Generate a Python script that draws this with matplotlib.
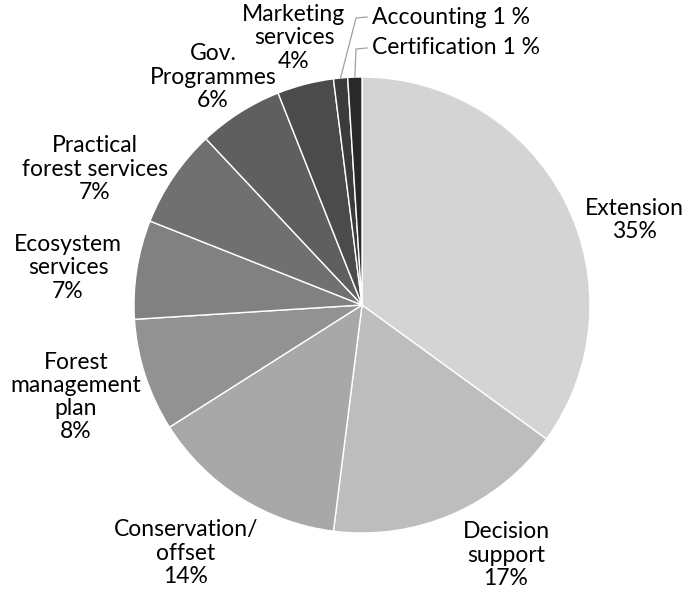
import numpy as np
import matplotlib
matplotlib.use("Agg")
import matplotlib.pyplot as plt

# service categories and their shares (%)
labels = ["Extension\n35%", "Decision\nsupport\n17%", "Conservation/\noffset\n14%",
          "Forest\nmanagement\nplan\n8%", "Ecosystem\nservices\n7%",
          "Practical\nforest services\n7%", "Gov.\nProgrammes\n6%",
          "Marketing\nservices\n4%", "Accounting 1 %", "Certification 1 %"]
shares = [35, 17, 14, 8, 7, 7, 6, 4, 1, 1]
greys = ["#d4d4d4", "#bdbdbd", "#a8a8a8", "#929292", "#818181",
         "#707070", "#5f5f5f", "#4b4b4b", "#3b3b3b", "#292929"]

# label anchor positions in pixel space (x, y from top)
label_pos = [(634, 220), (506, 555), (186, 553), (76, 397), (68, 268),
             (95, 169), (213, 77), (294, 38), (372, 17), (372, 48)]

plt.rcParams['font.family'] = ['Lato', 'DejaVu Sans']

W, H = 685, 597
fig = plt.figure(figsize=(W / 100, H / 100), dpi=100)
ax = fig.add_axes([0, 0, 1, 1])

cx, cy, r = 362, H - 305, 228
wedges, _ = ax.pie(shares, colors=greys, startangle=90, counterclock=False,
                   center=(cx, cy), radius=r, frame=True,
                   wedgeprops=dict(edgecolor='white', linewidth=1.0))
ax.set_xlim(0, W)
ax.set_ylim(0, H)
ax.set_aspect('equal')
ax.axis('off')

fs = 16.5
for i, (lab, (px, py)) in enumerate(zip(labels, label_pos)):
    if i >= 8:
        # small slices get a leader line
        w = wedges[i]
        ang = np.deg2rad((w.theta1 + w.theta2) / 2)
        x0, y0 = cx + r * np.cos(ang), cy + r * np.sin(ang)
        ty = H - py
        ax.plot([x0, px - 16, px - 5], [y0, ty - 1, ty], color='#a0a0a0', lw=0.9)
        ax.text(px, ty, lab, ha='left', va='center', fontsize=fs, color='black')
    else:
        ax.text(px, H - py, lab, ha='center', va='center', fontsize=fs,
                color='black', linespacing=1.12)

fig.savefig("out.png", dpi=100)
